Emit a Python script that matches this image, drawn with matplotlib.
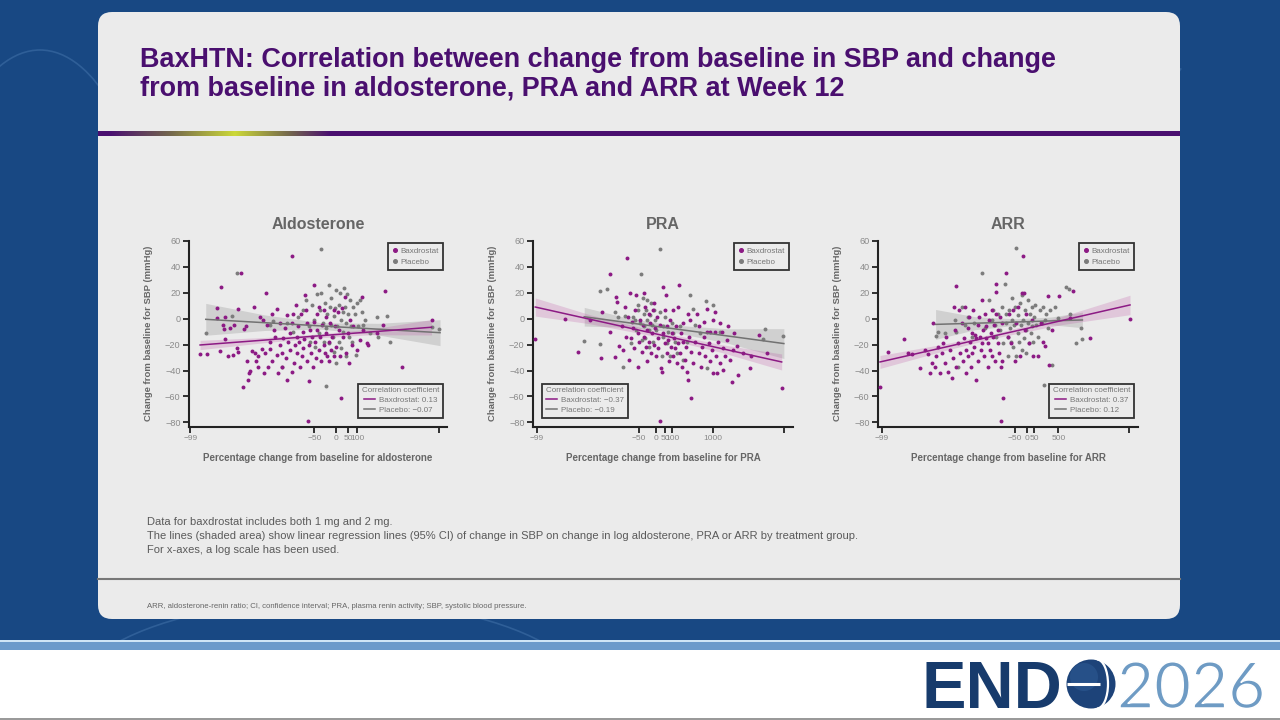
import numpy as np
import matplotlib
matplotlib.use("Agg")
import matplotlib.pyplot as plt
from matplotlib.patches import FancyBboxPatch, Rectangle, Circle, Arc
from matplotlib.lines import Line2D
import matplotlib.patheffects as pe

plt.rcParams['font.family'] = ['Liberation Sans', 'DejaVu Sans']

# ---------------- data ----------------
# x: log10 fold change from baseline, i.e. log10(1 + pct/100); y: change in SBP (mmHg)
aldo_bax = [
    (-1.91, -27), (-1.81, -27), (-1.67, 8.5), (-1.67, 0.3), (-1.63, -25), (-1.61, 24.7), (-1.59, -5), (-1.58, -8),
    (-1.56, 1), (-1.56, -16), (-1.52, -28.8), (-1.49, -7), (-1.45, -28), (-1.43, -5), (-1.34, 35), (-1.37, 7.8),
    (-1.39, -23), (-1.37, -26), (-1.31, -53), (-1.29, -8), (-1.26, -6), (-1.25, -33), (-1.24, -47), (-1.22, -42),
    (-1.21, -40), (-1.18, -24.7), (-1.15, 9.3), (-1.14, -26.7), (-1.12, -33), (-1.10, -37), (-1.09, -29), (-1.07, 1.6),
    (-1.04, -23.6), (-1.02, -1), (-1.01, -42), (-0.98, 20), (-1.00, -26.7), (-0.97, -5), (-0.95, -37.5), (-0.93, -17.7),
    (-0.92, -23.6), (-0.90, 4), (-0.89, -33), (-0.87, -8.7), (-0.85, -14), (-0.83, -28), (-0.82, 7.2), (-0.81, -42),
    (-0.79, -3.6), (-0.78, -20.3), (-0.76, -37), (-0.75, -26.7), (-0.74, -15), (-0.72, -7.4), (-0.70, -30.6), (-0.69, 2.9),
    (-0.68, -47.3), (-0.67, -17.7), (-0.65, -24), (-0.64, -11.3), (-0.62, -3), (-0.61, 48), (-0.61, -41), (-0.60, 4),
    (-0.59, -34.4), (-0.57, -20.3), (-0.56, 10.6), (-0.55, -14), (-0.54, -26.7), (-0.53, -6), (-0.51, -17.7), (-0.50, -37),
    (-0.49, 4), (-0.48, -29), (-0.46, -10), (-0.46, -23), (-0.45, -16), (-0.43, 18), (-0.42, 6.7), (-0.41, -32.4),
    (-0.40, -3.6), (-0.39, -78.7), (-0.38, -47.8), (-0.38, -20.3), (-0.36, -8.7), (-0.35, -26.7), (-0.34, -14), (-0.32, -37),
    (-0.31, 25.8), (-0.31, -2.3), (-0.29, -17.7), (-0.28, -30.6), (-0.27, 4), (-0.26, -8.7), (-0.24, -24), (-0.23, 9.3),
    (-0.22, -14), (-0.21, -33), (-0.19, -5), (-0.17, -20.3), (-0.16, 6.7), (-0.15, -26.7), (-0.14, -11.3), (-0.13, 1.6),
    (-0.12, -29), (-0.10, -17.7), (-0.09, -33), (-0.08, -3.6), (-0.07, -24), (-0.05, -14), (-0.03, 6.7), (-0.02, -29),
    (-0.01, -6), (0.01, -21.6), (0.03, 5), (0.04, -8.7), (0.06, -29), (0.08, -61), (0.09, 8), (0.11, -14), (0.13, 16.5),
    (0.15, -26.7), (0.18, -11.3), (0.19, -34.4), (0.20, -1), (0.23, -20.3), (0.25, -6), (0.30, -24), (0.34, -16.4),
    (0.37, 16.5), (0.39, -8.7), (0.44, -19), (0.46, -20.3), (0.58, -11.3), (0.66, -5), (0.69, 21), (0.93, -37), (1.35, -1),
]
aldo_pbo = [
    (-1.83, -11.3), (-1.46, 2), (-1.39, 35), (-0.92, -5), (-0.88, -1.5), (-0.76, -37), (-0.69, -3.6), (-0.60, -10),
    (-0.53, 1.6), (-0.46, 6.7), (-0.42, 14.5), (-0.38, -6), (-0.36, -17.7), (-0.34, 10.6), (-0.31, -1), (-0.29, -21.6),
    (-0.27, 19), (-0.24, -11.3), (-0.22, 6.7), (-0.21, 53.6), (-0.20, 19.6), (-0.18, -3), (-0.17, -17.7), (-0.15, 12),
    (-0.14, -51.7), (-0.13, -7.4), (-0.12, 4), (-0.10, 26), (-0.09, -19), (-0.08, 9.3), (-0.07, -5), (-0.06, 15.7),
    (-0.04, -14), (-0.03, 2), (-0.02, -25.5), (-0.01, 8), (0.00, -34.4), (0.01, 22), (0.02, -6), (0.04, -17.7),
    (0.05, 10.6), (0.06, 19.6), (0.07, -1), (0.08, -22.9), (0.10, 5.4), (0.11, -10), (0.12, 23.7), (0.13, 9.3),
    (0.15, -29), (0.15, -3.6), (0.16, 19), (0.18, 4), (0.19, -14), (0.20, 14.5), (0.22, -6), (0.23, -17.7),
    (0.25, 9.3), (0.27, 4), (0.29, -28), (0.30, 12), (0.32, -6), (0.34, 14.5), (0.37, 5.4), (0.39, -5),
    (0.41, -1), (0.48, -11.3), (0.58, 1.6), (0.60, -14), (0.72, 2), (0.76, -17.7), (1.35, -6.6), (1.46, -8),
]
pra_bax = [
    (-2.19, -15.7), (-1.65, -0.5), (-1.42, -25.4), (-1.19, -1), (-0.99, -30.3), (-0.98, 5.5), (-0.84, 34.5), (-0.83, -10),
    (-0.74, -29.3), (-0.72, 16.5), (-0.70, 13), (-0.66, -20.8), (-0.62, -6), (-0.59, -24), (-0.56, 9.3), (-0.54, -14),
    (-0.53, 47.1), (-0.50, 1.6), (-0.48, -32), (-0.47, 20), (-0.45, -15), (-0.44, -2.3), (-0.41, -7.4), (-0.39, -23),
    (-0.38, 6.7), (-0.35, 18.3), (-0.33, -37), (-0.32, -11.3), (-0.30, -17.7), (-0.28, -1), (-0.25, -25.4), (-0.24, -5),
    (-0.22, 19.6), (-0.21, -14), (-0.19, 9.3), (-0.18, -21.6), (-0.16, -8.7), (-0.15, -33), (-0.13, 4), (-0.12, -17.7),
    (-0.10, -3.6), (-0.09, -26.7), (-0.07, -11.3), (-0.05, 6.7), (-0.04, -20.3), (-0.03, 12), (-0.01, -7.4), (0.01, -29),
    (0.02, 1.6), (0.04, -15), (0.05, -23), (0.08, -5), (0.09, -38.3), (0.11, -41), (0.13, 24.7), (0.14, -11.3),
    (0.16, -19), (0.17, 6.7), (0.19, 18.3), (0.20, -26.7), (0.21, -6), (0.23, -16.4), (0.25, -33), (0.26, -1),
    (0.27, -21.6), (0.29, -11.3), (0.31, -29), (0.32, 6.7), (0.33, -15), (0.35, -23), (0.37, -6), (0.38, -34.4),
    (0.40, -19), (0.41, 9.3), (0.43, 25.8), (0.44, -26.7), (0.46, -11.3), (0.47, -37), (0.49, -17.7), (0.50, -3.6),
    (0.53, -32), (0.55, -21.6), (0.56, -41), (0.58, -47.3), (0.59, 4), (0.61, -14), (0.62, -1), (0.64, -25.4),
    (0.65, -61.5), (0.68, -34.4), (0.72, -17.7), (0.75, 4), (0.78, -26.7), (0.79, -6), (0.82, -37), (0.84, -21.6),
    (0.87, -2.3), (0.88, -14), (0.90, -29), (0.93, 7.3), (0.94, -10), (0.96, -19), (0.98, -33), (0.99, -10),
    (1.02, -24), (1.04, -42), (1.05, -1), (1.07, -10), (1.08, 5.4), (1.10, -29), (1.12, -42), (1.14, -17.7),
    (1.16, -3.6), (1.17, -34.4), (1.20, -10), (1.22, -23), (1.23, -39.6), (1.26, -29), (1.29, -16.4), (1.32, -6),
    (1.35, -32), (1.38, -48.6), (1.40, -24), (1.42, -11.3), (1.47, -21), (1.50, -43.4), (1.59, -26.7), (1.72, -38.3),
    (1.73, -29), (1.88, -12.6), (2.02, -26.2), (2.29, -53.2), (0.08, -79),
]
pra_pbo = [
    (-1.30, -17), (-1.02, -19.5), (-1.01, 21.4), (-0.88, 23.2), (-0.74, 5.4), (-0.69, 1.6), (-0.60, -37), (-0.56, -52.5),
    (-0.55, 2), (-0.45, -19), (-0.41, 1.6), (-0.38, -1), (-0.35, -8.7), (-0.33, 6.7), (-0.32, 10.6), (-0.28, -3.6),
    (-0.27, 34.3), (-0.25, -16.4), (-0.24, 15.7), (-0.22, 4), (-0.21, -6), (-0.19, -15), (-0.18, 6.7), (-0.16, 14.5),
    (-0.15, -1), (-0.13, -8.7), (-0.12, -21.6), (-0.10, 2.9), (-0.09, 12), (-0.07, -5), (-0.05, -17.7), (-0.04, 6.7),
    (-0.01, -1), (0.01, -8.7), (0.07, 53.6), (0.08, 5.4), (0.11, -29), (0.13, -14), (0.14, -6), (0.17, 1.6),
    (0.20, -19), (0.23, -10), (0.26, -29), (0.29, -3.6), (0.32, -11.3), (0.35, -17.7), (0.38, -26.7), (0.44, -6),
    (0.50, -32), (0.56, -17.7), (0.62, 18.3), (0.67, 7.3), (0.72, -5), (0.81, -11.3), (0.92, 14), (0.93, -38.3),
    (1.04, 10.6), (1.17, -10), (1.99, -8), (1.95, -16), (2.32, -13),
]
arr_bax = [
    (-3.67, -52.5), (-3.48, -25.4), (-3.08, -15.7), (-2.98, -26.7), (-2.88, -27.5), (-2.68, -37.8), (-2.56, -24),
    (-2.48, -27.2), (-2.43, -42), (-2.39, -34.4), (-2.35, -3.6), (-2.31, -37), (-2.27, -29), (-2.23, -21.6), (-2.18, -42),
    (-2.14, -26.7), (-2.10, -19), (-2.06, -34.4), (-2.02, -14), (-1.98, -41), (-1.93, -24), (-1.89, -46), (-1.85, -30.6),
    (-1.83, 9.3), (-1.81, -8.7), (-1.78, 25.3), (-1.77, -37), (-1.73, -19), (-1.70, 6.7), (-1.68, -26.7), (-1.64, -3.6),
    (-1.60, -33), (-1.58, -15), (-1.56, 9.3), (-1.53, -42), (-1.52, -24), (-1.49, -7.4), (-1.48, -29), (-1.45, 1.6),
    (-1.43, -17.7), (-1.41, -37), (-1.39, -11.3), (-1.37, -26.7), (-1.35, 6.7), (-1.33, -21.6), (-1.31, -12.6),
    (-1.29, -47.3), (-1.27, -15), (-1.24, -5), (-1.23, -33), (-1.21, 1.6), (-1.18, -14), (-1.16, -24), (-1.14, 14.5),
    (-1.13, -19), (-1.10, -8.7), (-1.08, -29), (-1.06, 4), (-1.03, -15), (-1.02, -6), (-0.99, -37), (-0.98, -19),
    (-0.96, -1), (-0.93, -24), (-0.91, -11.3), (-0.89, 6.7), (-0.87, -29), (-0.85, -14), (-0.83, -5), (-0.81, -33),
    (-0.79, 26.8), (-0.78, 20.4), (-0.77, 4), (-0.74, -19), (-0.73, -8.7), (-0.70, -26.7), (-0.68, 1.6), (-0.66, -37),
    (-0.64, -3.6), (-0.63, -33), (-0.60, -61), (-0.66, -78.7), (-0.52, 35), (-0.49, -14), (-0.46, 4), (-0.41, -19),
    (-0.35, 6.7), (-0.31, -33), (-0.27, -3.6), (-0.23, 9.3), (-0.18, -29), (-0.14, 19.6), (-0.10, 48.7), (-0.08, 19.6),
    (-0.06, -8.7), (-0.02, 4), (0.04, -19), (0.11, -1), (0.15, -28.5), (0.28, -29), (0.34, -3.6), (0.40, -17.7),
    (0.44, -21), (0.51, 17.5), (0.54, -35.7), (0.61, -8.7), (0.80, 17.5), (1.15, 21.4), (1.08, 0.3), (1.57, -14.6),
    (2.57, -0.5),
]
arr_pbo = [
    (-2.29, -13.3), (-2.23, -10), (-2.06, -10.8), (-1.81, -1), (-1.77, -10), (-1.73, -37), (-1.64, 9.3), (-1.56, -5),
    (-1.48, 1.6), (-1.39, -14), (-1.33, -3.6), (-1.14, 35), (-1.06, -7.4), (-0.96, 14.5), (-0.89, -1), (-0.85, 6.7),
    (-0.81, -5), (-0.77, -14), (-0.73, 4), (-0.68, -8.7), (-0.64, 9.3), (-0.60, -19), (-0.56, 26.8), (-0.53, -3.6),
    (-0.52, 4), (-0.49, -14), (-0.48, -29), (-0.45, 6.7), (-0.43, -7.4), (-0.41, -17.7), (-0.39, -1), (-0.37, 15.7),
    (-0.35, -21.6), (-0.33, -5), (-0.31, 9.3), (-0.28, 54.3), (-0.27, -29), (-0.24, -11.3), (-0.23, 2.9), (-0.21, -17.7),
    (-0.18, 12), (-0.16, -5), (-0.14, -24), (-0.13, 18.3), (-0.10, -1), (-0.08, -15), (-0.06, 6.7), (-0.03, -8.7),
    (-0.02, -26.7), (0.01, 14.5), (0.03, -3.6), (0.05, -19), (0.07, 4), (0.09, -11.3), (0.11, 9.3), (0.13, -6),
    (0.15, -17.7), (0.18, 1.6), (0.19, 10.6), (0.23, -5), (0.28, -14), (0.32, 6.7), (0.36, -3.6), (0.40, 9.3),
    (0.43, -51.2), (0.44, -1), (0.48, 4), (0.53, -7.4), (0.57, 6.7), (0.61, -35.7), (0.69, 9.3), (0.78, 0.3),
    (0.98, 24.7), (1.04, 22.7), (1.07, 4), (1.23, -18.5), (1.34, -6.9), (1.38, -15.7),
]

# regression lines with 95% CI read at five x positions: (x, fit, lower, upper)
aldo_bax_fit = ([-1.91, -1.0, -0.3, 0.5, 1.35], [-20.3, -16.5, -13.5, -10.2, -6.6],
                [-23.9, -18.5, -15.0, -12.4, -12.6], [-16.7, -14.5, -12.0, -8.0, -0.6])
aldo_pbo_fit = ([-1.83, -1.0, -0.2, 0.6, 1.47], [-0.5, -3.1, -5.6, -8.1, -10.8],
                [-12.8, -9.1, -8.1, -12.6, -20.8], [11.8, 2.9, -3.1, -3.6, -0.8])
pra_bax_fit = ([-2.19, -1.2, 0.0, 1.2, 2.29], [9.0, -0.4, -11.7, -23.1, -33.4],
               [2.0, -3.9, -13.7, -26.1, -39.6], [16.0, 3.1, -9.7, -20.1, -27.2])
pra_pbo_fit = ([-1.30, -0.5, 0.3, 1.3, 2.33], [1.5, -3.1, -7.6, -13.3, -19.2],
               [-5.7, -6.6, -10.3, -18.8, -30.7], [8.7, 0.4, -4.9, -7.8, -7.7])
arr_bax_fit = ([-3.68, -2.0, -0.8, 0.8, 2.57], [-33.4, -21.6, -13.1, -1.9, 10.6],
               [-38.4, -24.1, -14.9, -4.9, 3.1], [-28.4, -19.1, -11.3, 1.1, 18.1])
arr_pbo_fit = ([-2.29, -1.3, -0.3, 0.6, 1.38], [-4.4, -3.5, -2.6, -1.7, -1.0],
               [-15.9, -8.5, -5.1, -4.7, -7.0], [7.1, 1.5, -0.1, 1.3, 5.0])

# correlation coefficients
corr_bax = ['0.13', '\u22120.37', '0.37']
corr_pbo = ['\u22120.07', '\u22120.19', '0.12']

panel_titles = ['Aldosterone', 'PRA', 'ARR']
x_labels = ['Percentage change from baseline for aldosterone',
            'Percentage change from baseline for PRA',
            'Percentage change from baseline for ARR']
# x tick positions (percentage change) and labels
aldo_xticks = [-99.1, -50, 0, 50, 100, 2750]
pra_xticks = [-99.31, -50, 0, 50, 100, 1000, 21800]
arr_xticks = [-99.977, -50, 0, 50, 500, 35400]
aldo_xticklabels = ['\u221299', '\u221250', '0', '50', '100', '']
pra_xticklabels = ['\u221299', '\u221250', '0', '50', '100', '1000', '']
arr_xticklabels = ['\u221299', '\u221250', '0', '50', '500', '']
y_ticks = [-80, -60, -40, -20, 0, 20, 40, 60]
y_ticklabels = ['\u221280', '\u221260', '\u221240', '\u221220', '0', '20', '40', '60']

# ---------------- style ----------------
BAX = '#8c1a84'
PBO = '#7c7c7c'
CARD = '#ebebeb'
NAVY = '#184883'
PURPLE = '#4a0f6f'
GREY_TXT = '#666666'

fig = plt.figure(figsize=(12.8, 7.2), dpi=100)
fig.patch.set_facecolor(NAVY)

bg = fig.add_axes([0, 0, 1, 1], zorder=-5)
bg.set_xlim(0, 1280)
bg.set_ylim(720, 0)
bg.axis('off')

# subtle background texture strokes
for (cx, cy, w, h, t1, t2) in [(40, 330, 240, 560, 210, 330), (1240, 230, 200, 400, 130, 250),
                                (330, 700, 520, 200, 195, 345)]:
    bg.add_patch(Arc((cx, cy), w, h, theta1=t1, theta2=t2, color='#2f5f98', lw=1.2))

# card
bg.add_patch(FancyBboxPatch((98, 12), 1082, 607, boxstyle='round,pad=0,rounding_size=14',
                            facecolor=CARD, edgecolor='none'))
# title
bg.text(140, 60, 'BaxHTN: Correlation between change from baseline in SBP and change',
        fontsize=19.45, fontweight='bold', color=PURPLE, va='center', ha='left')
bg.text(140, 89, 'from baseline in aldosterone, PRA and ARR at Week 12',
        fontsize=19.45, fontweight='bold', color=PURPLE, va='center', ha='left')
# title rule with glow
bg.add_patch(Rectangle((98, 131), 1082, 5, facecolor=PURPLE, edgecolor='none'))
gx = np.linspace(110, 330, 220)
stops = [110, 170, 235, 290, 330]
pr = np.array([0.29, 0.06, 0.44])
yg = np.array([0.80, 0.85, 0.22])
ol = np.array([0.45, 0.40, 0.30])
cols = np.array([pr, ol, yg, ol, pr])
grad = np.stack([np.interp(gx, stops, cols[:, k]) for k in range(3)], axis=-1)[None, :, :]
bg.imshow(grad, extent=(110, 330, 136, 131), aspect='auto', zorder=3)
bg.set_xlim(0, 1280)
bg.set_ylim(720, 0)

# footer notes
notes = ['Data for baxdrostat includes both 1 mg and 2 mg.',
         'The lines (shaded area) show linear regression lines (95% CI) of change in SBP on change in log aldosterone, PRA or ARR by treatment group.',
         'For x-axes, a log scale has been used.']
for i, t in enumerate(notes):
    bg.text(147, 522 + 14.2 * i, t, fontsize=8.05, color='#5a5a5a', va='center', ha='left')
bg.plot([98, 1180], [579, 579], color='#777777', lw=1.5)
bg.text(147, 607, 'ARR, aldosterone-renin ratio; CI, confidence interval; PRA, plasma renin activity; SBP, systolic blood pressure.',
        fontsize=5.62, color='#666666', va='center', ha='left')

# bottom strip + logo
bg.add_patch(Rectangle((0, 640), 1280, 2, facecolor='#cfe5f6', edgecolor='none'))
bg.add_patch(Rectangle((0, 642), 1280, 8, facecolor='#6b9acb', edgecolor='none'))
bg.add_patch(Rectangle((0, 650), 1280, 70, facecolor='white', edgecolor='none'))
bg.add_patch(Rectangle((0, 718), 1280, 2, facecolor='#9a9a9a', edgecolor='none'))
bg.text(921, 708, 'END', fontsize=48, fontweight='bold', color='#173b6c', va='baseline', ha='left')
bg.add_patch(Circle((1091, 684), 24.5, facecolor='#1d4379', edgecolor='none'))
bg.add_patch(Circle((1084, 677), 14, facecolor='#2d5a93', edgecolor='none', alpha=0.6))
bg.plot([1067, 1100], [684, 684], color='white', lw=2.2, solid_capstyle='butt')
bg.add_patch(Arc((1097, 684), 22, 49, theta1=-90, theta2=90, color='white', lw=1.6))
bg.text(1117, 708, '2026', fontsize=46, fontweight='normal', color='#6e9bc4', va='baseline', ha='left',
        family=['Lato', 'Liberation Sans'],
        path_effects=[pe.Normal(), pe.Stroke(linewidth=1.1, foreground='white')])

# ---------------- panels ----------------
panel_px = [(189, 447), (533, 793), (878, 1138)]
xlims = [(-2.066, 1.568), (-2.231, 2.496), (-3.73, 2.77)]
bax_sets = [aldo_bax, pra_bax, arr_bax]
pbo_sets = [aldo_pbo, pra_pbo, arr_pbo]
bax_fits = [aldo_bax_fit, pra_bax_fit, arr_bax_fit]
pbo_fits = [aldo_pbo_fit, pra_pbo_fit, arr_pbo_fit]
xticks_all = [aldo_xticks, pra_xticks, arr_xticks]
xticklabels_all = [aldo_xticklabels, pra_xticklabels, arr_xticklabels]
corr_loc = ['lower right', 'lower left', 'lower right']

top_px, bot_px = 239, 427
for i in range(3):
    l, r = panel_px[i]
    ax = fig.add_axes([l / 1280, 1 - bot_px / 720, (r - l) / 1280, (bot_px - top_px) / 720])
    ax.set_facecolor('none')
    ax.set_xlim(*xlims[i])
    ax.set_ylim(-83.6, 61.5)

    fx, fy, flo, fhi = pbo_fits[i]
    ax.fill_between(fx, flo, fhi, color='#8a8a8a', alpha=0.28, lw=0, zorder=1)
    fx2, fy2, flo2, fhi2 = bax_fits[i]
    ax.fill_between(fx2, flo2, fhi2, color='#b9499f', alpha=0.22, lw=0, zorder=1)

    b = np.array(bax_sets[i]); p = np.array(pbo_sets[i])
    ax.scatter(b[:, 0], b[:, 1], s=8, color=BAX, lw=0, zorder=3)
    ax.scatter(p[:, 0], p[:, 1], s=8, color=PBO, lw=0, zorder=2)
    ax.plot(fx, fy, color='#727272', lw=1.1, zorder=4)
    ax.plot(fx2, fy2, color=BAX, lw=1.1, zorder=4)

    xt = np.log10(1 + np.array(xticks_all[i]) / 100.0)
    ax.set_xticks(xt)
    ax.set_xticklabels(xticklabels_all[i])
    ax.set_yticks(y_ticks)
    ax.set_yticklabels(y_ticklabels)
    for s in ['top', 'right']:
        ax.spines[s].set_visible(False)
    for s in ['left', 'bottom']:
        ax.spines[s].set_linewidth(1.5)
        ax.spines[s].set_color('#222222')
    ax.spines['left'].set_bounds(-83.6, 60)
    ax.tick_params(direction='out', length=4, width=1.3, color='#222222',
                   labelcolor='#8a8a8a', labelsize=6.6, pad=2)
    ax.tick_params(axis='x', labelsize=6.0)
    ax.set_title(panel_titles[i], fontsize=11.5, fontweight='bold', color=GREY_TXT, pad=7)
    ax.set_xlabel(x_labels[i], fontsize=7, fontweight='bold', color=GREY_TXT, labelpad=8)
    ax.set_ylabel('Change from baseline for SBP (mmHg)', fontsize=6.8, fontweight='bold',
                  color=GREY_TXT, labelpad=9)

    h1 = [Line2D([], [], marker='o', ls='', color=BAX, markersize=2.6),
          Line2D([], [], marker='o', ls='', color=PBO, markersize=2.6)]
    leg1 = ax.legend(h1, ['Baxdrostat', 'Placebo'], loc='upper right', bbox_to_anchor=(1.0, 1.0),
                     fontsize=5.8, frameon=True, fancybox=False, edgecolor='#333333',
                     facecolor=CARD, framealpha=1, handlelength=0.8, handletextpad=0.3,
                     borderpad=0.5, labelspacing=0.4, labelcolor='#777777')
    leg1.get_frame().set_linewidth(1.3)
    ax.add_artist(leg1)

    h2 = [Line2D([], [], color=BAX, lw=1.1), Line2D([], [], color='#727272', lw=1.1)]
    anchor = (1.0, 0.027) if corr_loc[i] == 'lower right' else (0.019, 0.027)
    leg2 = ax.legend(h2, ['Baxdrostat: ' + corr_bax[i], 'Placebo: ' + corr_pbo[i]],
                     loc=corr_loc[i], bbox_to_anchor=anchor, title='Correlation coefficient',
                     title_fontsize=5.8, fontsize=5.8, frameon=True, fancybox=False,
                     edgecolor='#333333', facecolor=CARD, framealpha=1, handlelength=1.4,
                     handletextpad=0.5, borderpad=0.45, labelspacing=0.3, labelcolor='#777777')
    leg2.get_title().set_color('#777777')
    leg2.get_frame().set_linewidth(1.3)

fig.savefig('out.png', dpi=100, facecolor=fig.get_facecolor())
